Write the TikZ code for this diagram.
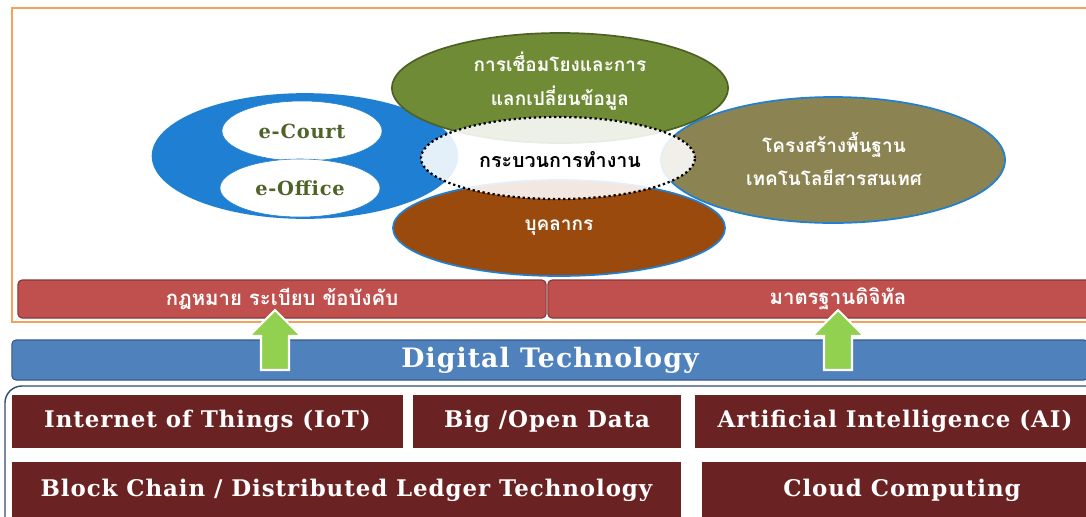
\documentclass[tikz,border=0pt]{standalone}
\usepackage{fontspec}
\newfontfamily\thaifont[Script=Thai]{Loma}
\newfontfamily\enfont[LetterSpace=4]{DejaVu Serif}
\usetikzlibrary{shapes.geometric}

\definecolor{courtblue}{HTML}{1F7FD2}
\definecolor{linkgreen}{HTML}{6F8B35}
\definecolor{infraolive}{HTML}{8C8352}
\definecolor{staffbrown}{HTML}{9A4A0D}
\definecolor{lawred}{HTML}{C0504D}
\definecolor{techblue}{HTML}{4F81BD}
\definecolor{boxred}{HTML}{6A2222}
\definecolor{framebord}{HTML}{F6A15B}
\definecolor{arrowgreen}{HTML}{92D050}
\definecolor{courttext}{HTML}{4F6228}

\newcommand\greenup[1]{\filldraw[upshaft] (#1-14,370) -- (#1-14,336) -- (#1-26,336) -- (#1,310) -- (#1+26,336) -- (#1+14,336) -- (#1+14,370) -- cycle;}

\begin{document}
\begin{tikzpicture}[x=0.025cm,y=-0.025cm,
    bubble/.style={ellipse, draw=courtblue, line width=1.2pt, inner sep=0pt},
    thaitxt/.style={text=white, font=\thaifont\bfseries\fontsize{13.5}{24}\selectfont, align=center},
    courtbubble/.style={ellipse, fill=white, draw=courtblue, minimum width=4cm,
        text=courttext, font=\enfont\bfseries\fontsize{13.8}{16}\selectfont},
    redbar/.style={rectangle, rounded corners=3pt, fill=lawred, draw=lawred!70!black, line width=0.8pt,
        minimum height=0.95cm, text=white, font=\thaifont\bfseries\fontsize{14.5}{18}\selectfont},
    techbox/.style={rectangle, fill=boxred, minimum height=1.33cm, text=white,
        font=\enfont\bfseries\fontsize{16.3}{19}\selectfont},
    upshaft/.style={fill=arrowgreen, draw=white, line width=1.5pt}]

\clip (0,0) rectangle (1086,516);
\fill[white] (0,0) rectangle (1086,516);

% orange frame round the upper part
\draw[framebord, line width=1pt] (12,8) rectangle (1100,322);

% the bubbles
\node[bubble, fill=courtblue, minimum width=7.62cm, minimum height=3.1cm] (court) at (305,156) {};
\node[courtbubble, minimum height=1.5cm] (ecourt) at (302,131) {e-Court};
\node[courtbubble, minimum height=1.45cm] (eoffice) at (300,188) {e-Office};
\node[bubble, fill=linkgreen, draw=linkgreen!70!black, minimum width=8.4cm, minimum height=2.75cm] (link) at (560,88) {};
\node[bubble, fill=infraolive, minimum width=8.6cm, minimum height=3.15cm] (infra) at (833,160) {};
\node[bubble, fill=staffbrown, minimum width=8.3cm, minimum height=2.4cm] (staff) at (559,228) {};
\node[ellipse, fill=white, fill opacity=0.88, draw=black, dotted, line width=1.6pt,
    minimum width=6.85cm, minimum height=2.05cm] (process) at (558,158) {};

\node[thaitxt] (linktxt) at (560,81) {การเชื่อมโยงและการ\\แลกเปลี่ยนข้อมูล};
\node[thaitxt] (infratxt) at (834,159) {โครงสร้างพื้นฐาน\\เทคโนโลยีสารสนเทศ};
\node[thaitxt] (stafftxt) at (559,228) {บุคลากร};
\node[thaitxt, text=black, font=\thaifont\bfseries\fontsize{14}{18}\selectfont] (processtxt) at (560,160) {กระบวนการทำงาน};

% laws and standards
\node[redbar, minimum width=13.2cm] (law) at (282,299) {กฎหมาย ระเบียบ ข้อบังคับ};
\node[redbar, minimum width=14.5cm] (std) at (838,299) {มาตรฐานดิจิทัล};

% digital technology
\node[rectangle, rounded corners=3pt, fill=techblue, draw=techblue!70!black, line width=0.8pt,
    minimum width=26.9cm, minimum height=1cm, text=white,
    font=\enfont\bfseries\fontsize{19}{22}\selectfont] (dtech) at (550,360) {Digital Technology};

\greenup{275}
\greenup{838}

% technologies
\draw[techblue!60!black, line width=1pt, rounded corners=12pt] (5,386) rectangle (1120,540);
\node[techbox, minimum width=9.78cm] (iot) at (207.5,421.5) {Internet of Things (IoT)};
\node[techbox, minimum width=6.7cm] (bigdata) at (547,421.5) {Big /Open Data};
\node[techbox, minimum width=10cm] (ai) at (895,421.5) {Artificial Intelligence (AI)};
\node[techbox, minimum width=16.72cm, minimum height=1.4cm] (chain) at (346.5,490) {Block Chain / Distributed Ledger Technology};
\node[techbox, minimum width=10cm, minimum height=1.4cm] (cloud) at (902,490) {Cloud Computing};
\end{tikzpicture}
\end{document}
